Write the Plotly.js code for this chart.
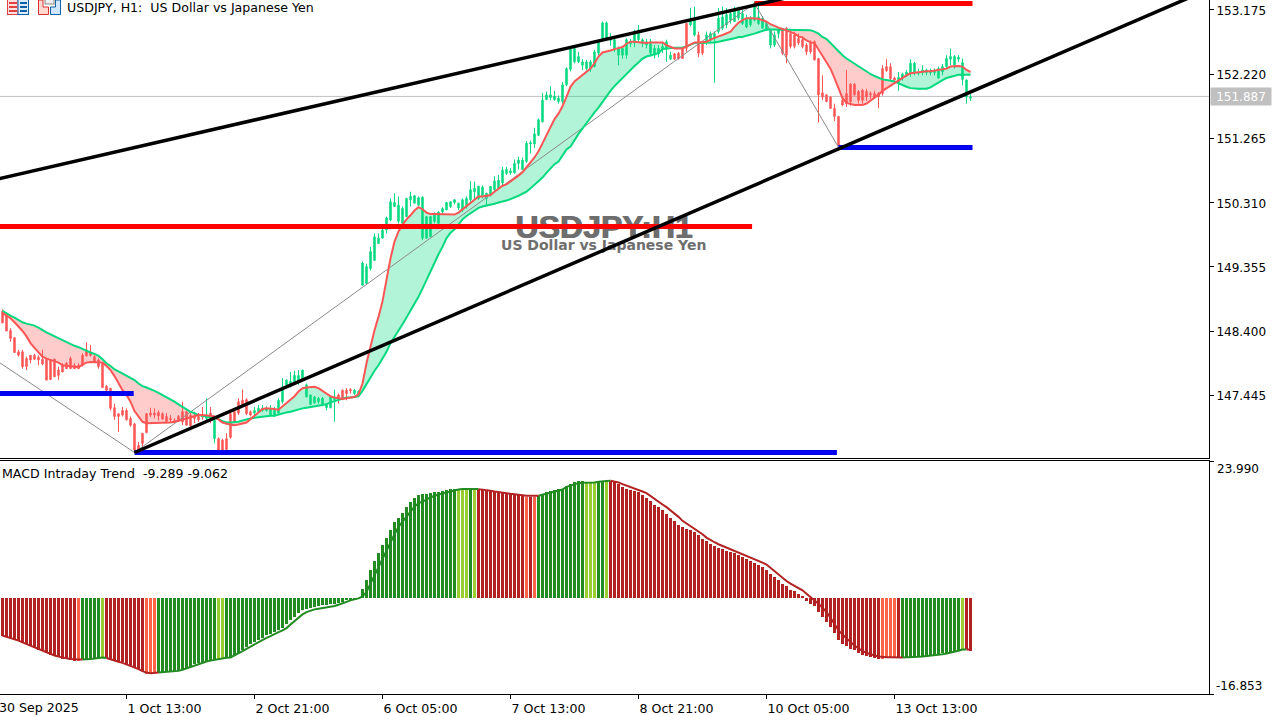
<!DOCTYPE html>
<html><head><meta charset="utf-8">
<script src="https://cdn.plot.ly/plotly-3.0.1.min.js"></script>
<style>html,body{margin:0;padding:0;background:#fff;overflow:hidden}#chart{width:1285px;height:715px}</style>
</head><body><div id="chart"></div>
<script>
const symbolTitle = 'USDJPY, H1:  US Dollar vs Japanese Yen';
const watermarkMain = 'USDJPY:H1';
const watermarkSub = 'US Dollar vs Japanese Yen';
const macdTitle = 'MACD Intraday Trend  -9.289 -9.062';
const currentPrice = 151.887;
const priceTicks = [153.175,152.220,151.265,150.310,149.355,148.400,147.445];
const macdTicks = [23.990,-16.853];
const timeTickBars = [31,63,95,127,159,191,223];
const timeTickLabels = ['1 Oct 13:00','2 Oct 21:00','6 Oct 05:00','7 Oct 13:00','8 Oct 21:00','10 Oct 05:00','13 Oct 13:00'];
const firstTimeLabel = '30 Sep 2025';

const high = [
148.72,148.66,148.44,148.31,148.12,148.12,148.02,148.04,148.06,148.04,
148.12,147.99,147.98,147.99,147.87,147.92,147.94,148.02,147.92,147.92,
148.07,148.23,148.19,148.04,147.99,147.92,147.60,147.55,147.32,147.18,
147.27,147.25,147.13,147.03,146.75,146.88,147.18,147.26,147.25,147.22,
147.19,147.18,147.15,147.10,147.15,147.35,147.22,147.18,147.20,147.18,
147.27,147.40,147.27,147.08,146.82,146.80,146.88,147.18,147.25,147.40,
147.53,147.40,147.22,147.27,147.30,147.30,147.28,147.30,147.27,147.40,
147.70,147.68,147.79,147.81,147.82,147.82,147.62,147.45,147.43,147.42,
147.42,147.31,147.43,147.53,147.47,147.53,147.55,147.55,147.54,147.52,
149.43,149.40,149.65,149.85,149.85,149.97,150.10,150.37,150.45,150.40,
150.25,150.38,150.47,150.42,150.40,150.40,150.10,150.11,150.16,150.18,
150.24,150.31,150.33,150.36,150.30,150.37,150.40,150.63,150.62,150.56,
150.56,150.45,150.55,150.70,150.72,150.84,150.84,150.82,150.95,150.99,
150.98,151.22,151.23,151.42,151.56,151.94,151.96,152.04,151.97,151.90,
152.10,152.32,152.63,152.62,152.55,152.44,152.43,152.43,152.58,152.73,
153.00,153.00,152.83,152.75,152.63,152.62,152.75,152.74,152.88,152.95,
152.75,152.74,152.74,152.65,152.65,152.70,152.73,152.55,152.53,152.55,
152.62,152.98,153.20,153.22,152.85,152.70,152.85,152.85,152.85,153.20,
153.22,153.20,153.17,153.22,153.22,153.17,153.10,153.08,153.30,153.25,
153.08,153.00,152.88,152.85,152.90,152.90,152.92,152.88,152.85,152.82,
152.78,152.68,152.72,152.72,152.46,152.20,151.92,151.88,151.78,151.59,
151.85,152.28,152.08,152.08,151.98,152.00,152.00,151.96,151.97,151.95,
152.35,152.44,152.38,152.18,152.25,152.24,152.28,152.44,152.40,152.30,
152.35,152.30,152.30,152.30,152.33,152.37,152.50,152.60,152.50,152.50,
152.45,152.14,151.95];

const low = [
148.52,148.40,148.24,148.08,148.02,147.84,147.82,147.92,147.97,147.89,
147.89,147.67,147.67,147.72,147.67,147.79,147.84,147.84,147.84,147.84,
147.87,148.02,148.02,147.94,147.84,147.56,147.51,147.22,147.08,146.90,
147.13,147.07,146.98,146.61,146.61,146.63,146.88,147.12,147.10,147.07,
147.09,147.03,147.05,147.02,147.05,147.00,147.00,146.98,147.03,147.05,
147.08,147.04,147.03,146.73,146.63,146.63,146.63,146.80,147.05,147.15,
147.30,147.15,147.13,147.15,147.18,147.20,147.20,147.14,147.12,147.16,
147.32,147.58,147.56,147.60,147.60,147.65,147.42,147.30,147.32,147.32,
147.28,147.22,147.25,147.05,147.32,147.38,147.37,147.47,147.45,147.45,
149.08,149.10,149.30,149.45,149.70,149.78,149.85,150.03,150.25,150.00,
150.00,150.10,150.25,150.30,150.27,149.75,149.77,149.80,150.00,150.00,
150.13,150.20,150.23,150.28,150.20,150.17,150.22,150.32,150.35,150.35,
150.37,150.26,150.40,150.47,150.50,150.57,150.72,150.72,150.74,150.80,
150.80,150.90,151.04,151.12,151.30,151.50,151.83,151.83,151.82,151.78,
151.78,152.04,152.26,152.38,152.38,152.28,152.27,152.25,152.32,152.50,
152.72,152.72,152.64,152.55,152.35,152.45,152.45,152.62,152.62,152.70,
152.62,152.60,152.48,152.45,152.47,152.53,152.40,152.43,152.43,152.43,
152.45,152.55,152.93,152.78,152.47,152.50,152.65,152.70,152.09,152.82,
152.87,152.90,152.97,153.00,153.02,152.95,152.90,152.92,153.00,152.95,
152.90,152.87,152.60,152.62,152.75,152.50,152.38,152.60,152.60,152.65,
152.60,152.50,152.52,152.42,151.50,151.83,151.80,151.70,151.52,151.16,
151.74,151.73,151.75,151.90,151.78,151.78,151.82,151.85,151.85,151.71,
151.90,152.25,152.12,152.10,151.97,152.12,152.18,152.18,152.20,152.20,
152.20,152.20,152.20,152.20,152.15,152.20,152.30,152.35,152.30,152.40,
152.05,151.78,151.82];

const bodyTop = [
148.69,148.64,148.41,148.30,148.09,148.09,147.99,148.04,148.04,148.01,
147.98,147.98,147.97,147.98,147.82,147.89,147.92,147.99,147.89,147.89,
148.04,148.12,148.09,148.02,147.97,147.92,147.58,147.55,147.26,147.17,
147.22,147.22,147.10,147.02,146.70,146.88,147.17,147.18,147.18,147.19,
147.17,147.13,147.10,147.07,147.13,147.20,147.20,147.15,147.13,147.13,
147.15,147.13,147.18,147.07,146.80,146.78,146.80,147.17,147.20,147.35,
147.37,147.38,147.20,147.22,147.25,147.25,147.25,147.25,147.22,147.37,
147.57,147.67,147.65,147.74,147.74,147.82,147.60,147.45,147.42,147.40,
147.40,147.30,147.42,147.42,147.45,147.52,147.52,147.53,147.52,147.50,
149.41,149.36,149.58,149.80,149.78,149.90,150.08,150.32,150.31,150.27,
150.22,150.37,150.40,150.41,150.38,150.39,150.10,150.10,150.15,150.17,
150.22,150.31,150.32,150.35,150.30,150.35,150.37,150.50,150.52,150.55,
150.54,150.45,150.55,150.63,150.64,150.79,150.80,150.78,150.89,150.94,
150.94,151.19,151.20,151.33,151.54,151.83,151.91,151.91,151.89,151.86,
152.06,152.30,152.60,152.60,152.48,152.40,152.40,152.40,152.55,152.70,
152.98,152.98,152.75,152.73,152.60,152.60,152.73,152.70,152.85,152.87,
152.73,152.70,152.70,152.60,152.60,152.63,152.70,152.50,152.52,152.53,
152.60,152.97,153.02,153.02,152.80,152.68,152.80,152.82,152.82,153.05,
153.07,153.10,153.12,153.17,153.20,153.12,153.05,153.05,153.27,153.07,
153.05,152.97,152.87,152.80,152.87,152.87,152.90,152.82,152.80,152.75,
152.73,152.65,152.68,152.70,152.45,151.94,151.91,151.88,151.71,151.59,
151.83,151.93,152.07,152.07,151.96,151.98,151.96,151.93,151.93,151.93,
152.30,152.33,152.33,152.16,152.17,152.22,152.25,152.38,152.38,152.25,
152.28,152.28,152.27,152.28,152.30,152.33,152.45,152.48,152.48,152.47,
152.39,152.13,151.88];

const bodyBottom = [
148.52,148.40,148.29,148.08,148.04,147.87,147.87,147.97,147.98,147.97,
147.91,147.67,147.68,147.72,147.74,147.79,147.84,147.84,147.84,147.84,
147.89,148.03,148.04,147.94,147.87,147.56,147.52,147.25,147.13,147.13,
147.15,147.08,147.00,146.63,146.63,146.73,146.89,147.15,147.15,147.14,
147.09,147.05,147.08,147.04,147.08,147.05,147.00,146.99,147.10,147.08,
147.12,147.10,147.12,146.80,146.63,146.63,146.64,146.82,147.05,147.18,
147.31,147.17,147.15,147.18,147.20,147.22,147.22,147.15,147.15,147.18,
147.35,147.60,147.58,147.62,147.65,147.67,147.42,147.31,147.33,147.35,
147.30,147.26,147.26,147.38,147.40,147.38,147.47,147.51,147.47,147.47,
149.08,149.11,149.33,149.45,149.70,149.78,149.90,150.05,150.25,150.03,
150.00,150.10,150.35,150.30,150.27,149.78,149.78,149.80,150.03,150.00,
150.17,150.20,150.25,150.31,150.23,150.20,150.25,150.35,150.47,150.37,
150.41,150.37,150.42,150.50,150.52,150.60,150.74,150.75,150.75,150.89,
150.80,150.92,151.18,151.18,151.31,151.51,151.84,151.87,151.84,151.81,
151.81,152.06,152.29,152.40,152.40,152.35,152.30,152.30,152.33,152.53,
152.75,152.75,152.72,152.58,152.50,152.50,152.50,152.67,152.68,152.73,
152.67,152.65,152.53,152.50,152.52,152.58,152.60,152.44,152.44,152.45,
152.45,152.60,152.95,152.80,152.53,152.53,152.70,152.72,152.75,152.85,
152.90,152.95,153.02,153.00,153.05,152.97,152.92,152.95,153.02,152.97,
152.90,152.87,152.65,152.65,152.82,152.53,152.50,152.63,152.63,152.68,
152.63,152.55,152.55,152.43,151.91,151.88,151.81,151.71,151.59,151.16,
151.76,151.78,151.81,151.91,151.83,151.83,151.88,151.91,151.88,151.88,
151.93,152.27,152.15,152.13,152.08,152.16,152.19,152.23,152.25,152.23,
152.24,152.24,152.24,152.24,152.16,152.25,152.33,152.44,152.35,152.44,
152.14,151.88,151.86];

const greenCandleRanges = [[51,51],[53,53],[63,83],[88,167],[172,173],[176,194],[224,242]];

const fastMA = [
148.67,148.63,148.59,148.53,148.47,148.40,148.32,148.22,148.15,148.08,
148.02,147.99,147.97,147.95,147.93,147.89,147.88,147.87,147.86,147.86,
147.90,147.93,147.94,147.94,147.94,147.93,147.88,147.82,147.73,147.63,
147.52,147.45,147.35,147.21,147.13,147.05,147.03,147.03,147.03,147.03,
147.03,147.03,147.04,147.05,147.06,147.08,147.10,147.12,147.13,147.15,
147.15,147.15,147.14,147.13,147.08,147.04,147.02,147.01,147.00,147.01,
147.02,147.04,147.09,147.14,147.20,147.24,147.25,147.25,147.24,147.23,
147.28,147.32,147.37,147.43,147.50,147.55,147.56,147.57,147.57,147.55,
147.51,147.46,147.43,147.41,147.40,147.39,147.40,147.41,147.42,147.46,
147.62,147.92,148.17,148.41,148.61,148.84,149.16,149.48,149.73,149.88,
149.98,150.06,150.12,150.19,150.24,150.21,150.16,150.14,150.14,150.14,
150.13,150.13,150.13,150.13,150.16,150.21,150.26,150.31,150.36,150.40,
150.40,150.41,150.42,150.47,150.52,150.56,150.58,150.62,150.66,150.71,
150.76,150.83,150.90,150.98,151.07,151.19,151.31,151.45,151.55,151.63,
151.74,151.88,152.03,152.11,152.16,152.21,152.26,152.30,152.38,152.48,
152.54,152.55,152.57,152.59,152.60,152.62,152.67,152.70,152.70,152.69,
152.68,152.68,152.69,152.69,152.70,152.69,152.65,152.62,152.60,152.60,
152.60,152.63,152.66,152.69,152.69,152.70,152.70,152.73,152.76,152.78,
152.80,152.83,152.85,152.92,152.98,153.02,153.05,153.05,153.05,153.04,
153.02,153.00,152.96,152.93,152.91,152.89,152.87,152.85,152.82,152.78,
152.76,152.72,152.69,152.68,152.58,152.49,152.40,152.30,152.16,152.01,
151.86,151.79,151.77,151.76,151.76,151.76,151.78,151.82,151.86,151.91,
151.97,152.01,152.05,152.08,152.12,152.16,152.20,152.23,152.24,152.25,
152.25,152.26,152.26,152.27,152.27,152.28,152.30,152.33,152.34,152.34,
152.33,152.28,152.25];

const slowMA = [
148.70,148.66,148.63,148.60,148.56,148.53,148.51,148.50,148.48,148.45,
148.41,148.38,148.35,148.32,148.29,148.26,148.23,148.20,148.18,148.16,
148.13,148.11,148.08,148.06,148.03,147.98,147.92,147.88,147.83,147.80,
147.77,147.74,147.71,147.67,147.62,147.58,147.56,147.54,147.51,147.48,
147.45,147.41,147.38,147.35,147.31,147.27,147.23,147.20,147.18,147.15,
147.14,147.13,147.11,147.10,147.09,147.06,147.04,147.04,147.04,147.05,
147.07,147.09,147.10,147.11,147.12,147.13,147.13,147.14,147.14,147.16,
147.17,147.19,147.20,147.22,147.24,147.25,147.26,147.27,147.28,147.29,
147.30,147.31,147.34,147.36,147.37,147.39,147.41,147.41,147.42,147.43,
147.51,147.62,147.71,147.81,147.89,147.99,148.09,148.22,148.31,148.39,
148.50,148.60,148.70,148.80,148.91,149.03,149.16,149.28,149.42,149.54,
149.65,149.78,149.86,149.91,149.98,150.06,150.11,150.15,150.19,150.23,
150.25,150.26,150.27,150.29,150.31,150.32,150.34,150.36,150.38,150.41,
150.44,150.47,150.52,150.57,150.62,150.68,150.75,150.82,150.88,150.92,
151.02,151.10,151.14,151.24,151.33,151.41,151.49,151.58,151.65,151.72,
151.81,151.89,151.97,152.04,152.10,152.17,152.23,152.28,152.34,152.39,
152.45,152.48,152.50,152.52,152.53,152.59,152.60,152.61,152.61,152.61,
152.61,152.63,152.66,152.68,152.68,152.68,152.68,152.69,152.69,152.70,
152.71,152.73,152.74,152.75,152.77,152.77,152.79,152.80,152.82,152.84,
152.86,152.88,152.88,152.88,152.88,152.88,152.88,152.88,152.88,152.88,
152.88,152.88,152.87,152.85,152.82,152.77,152.74,152.68,152.62,152.55,
152.50,152.45,152.41,152.38,152.33,152.29,152.25,152.22,152.19,152.16,
152.14,152.13,152.12,152.11,152.08,152.05,152.03,152.01,152.00,152.00,
152.00,152.00,152.02,152.06,152.10,152.13,152.16,152.18,152.20,152.21,
152.21,152.21,152.21];

const macdHist = [
-6.71,-6.88,-7.06,-7.35,-7.58,-7.88,-8.17,-8.52,-8.81,-9.11,
-9.40,-9.69,-9.93,-10.16,-10.39,-10.63,-10.80,-10.92,-10.98,-10.98,
-10.80,-10.86,-10.75,-10.69,-10.51,-10.39,-10.51,-10.75,-10.98,-11.16,
-11.33,-11.62,-11.86,-12.15,-12.44,-12.80,-13.32,-13.32,-13.21,-13.09,
-13.09,-12.97,-12.85,-12.85,-12.74,-12.56,-12.27,-12.04,-11.68,-11.39,
-11.27,-11.10,-10.98,-10.86,-10.69,-10.57,-10.51,-10.39,-10.10,-9.69,
-9.22,-8.64,-8.17,-7.76,-7.35,-7.00,-6.59,-6.30,-6.00,-5.71,
-5.24,-4.54,-3.84,-3.37,-2.66,-2.20,-1.96,-1.79,-1.61,-1.49,
-1.32,-1.20,-1.14,-1.02,-0.85,-0.67,-0.44,-0.32,-0.20,-0.09,
1.61,3.19,4.83,6.41,7.88,9.22,10.51,11.98,13.32,14.08,
14.90,15.96,16.84,17.54,18.01,18.12,18.18,18.30,18.48,18.59,
18.77,18.89,19.00,19.06,18.89,18.89,18.89,19.00,19.00,19.00,
19.00,18.89,18.77,18.65,18.53,18.42,18.30,18.24,18.12,17.95,
17.83,17.72,17.72,17.72,17.89,18.12,18.53,18.77,18.89,19.00,
19.12,19.59,19.94,20.23,20.41,20.41,20.29,20.17,20.17,20.29,
20.41,20.47,20.47,20.35,19.88,19.47,19.06,18.89,18.71,18.48,
18.01,17.54,17.01,16.25,15.84,15.37,14.67,14.08,13.50,12.74,
12.44,12.15,11.86,11.57,10.98,10.28,9.93,9.40,9.11,8.81,
8.64,8.23,8.05,7.88,7.47,7.17,6.88,6.47,6.12,5.71,
5.42,4.83,4.13,3.66,3.19,2.37,2.02,1.43,1.14,0.61,
0.38,-0.56,-1.02,-1.43,-2.49,-3.37,-4.25,-5.12,-6.18,-7.47,
-8.05,-8.52,-8.93,-9.22,-9.63,-9.93,-10.16,-10.39,-10.57,-10.75,
-10.75,-10.57,-10.51,-10.51,-10.51,-10.57,-10.57,-10.51,-10.39,-10.34,
-10.22,-10.16,-10.04,-9.93,-9.87,-9.69,-9.63,-9.52,-9.34,-9.16,
-8.99,-9.05,-9.289];

const macdSignal = [
-6.60,-6.80,-7.00,-7.30,-7.50,-7.80,-8.10,-8.40,-8.70,-9.00,
-9.30,-9.60,-9.80,-10.10,-10.30,-10.50,-10.60,-10.70,-10.80,-10.80,
-10.80,-10.80,-10.70,-10.65,-10.50,-10.45,-10.55,-10.80,-11.00,-11.20,
-11.40,-11.65,-11.90,-12.20,-12.50,-12.85,-13.10,-13.20,-13.15,-13.10,
-13.05,-13.00,-12.95,-12.90,-12.80,-12.60,-12.35,-12.10,-11.85,-11.55,
-11.30,-11.15,-11.00,-10.85,-10.70,-10.60,-10.50,-10.45,-10.10,-9.81,
-9.34,-8.93,-8.52,-8.17,-7.76,-7.35,-7.00,-6.71,-6.30,-6.00,
-5.71,-5.30,-4.66,-4.07,-3.54,-2.90,-2.49,-2.20,-2.02,-1.90,
-1.79,-1.67,-1.49,-1.43,-1.20,-0.91,-0.73,-0.44,-0.26,-0.09,
0.26,1.02,2.49,3.95,5.53,6.88,8.34,9.81,11.16,12.44,
13.32,14.30,15.20,16.00,16.60,16.84,17.25,17.60,17.89,18.12,
18.30,18.53,18.77,18.89,19.00,19.06,19.06,19.06,19.06,19.06,
19.00,18.83,18.77,18.65,18.53,18.42,18.36,18.24,18.18,18.07,
17.95,17.89,17.89,17.89,17.89,18.07,18.30,18.48,18.65,18.83,
19.00,19.47,19.70,19.94,20.11,20.17,20.17,20.23,20.23,20.35,
20.35,20.47,20.53,20.41,20.23,19.94,19.70,19.47,19.24,18.94,
18.65,18.36,17.83,17.30,16.84,16.37,15.90,15.37,14.79,14.20,
13.50,13.03,12.62,12.15,11.74,11.16,10.57,10.10,9.75,9.40,
9.11,8.81,8.58,8.34,8.05,7.76,7.47,7.17,6.88,6.53,
6.18,5.83,5.24,4.66,4.13,3.54,2.96,2.49,2.14,1.79,
1.32,0.73,0.15,-0.32,-1.02,-1.73,-2.49,-3.48,-4.54,-5.71,
-6.41,-7.17,-7.76,-8.35,-8.87,-9.34,-9.63,-9.93,-10.10,-10.28,
-10.39,-10.39,-10.39,-10.39,-10.45,-10.45,-10.45,-10.45,-10.39,-10.34,
-10.28,-10.22,-10.10,-10.04,-9.99,-9.87,-9.75,-9.63,-9.46,-9.28,
-9.05,-9.05,-9.062];

const histStateRuns = [['D',19],['L',1],['G',5],['Y',1],['D',10],['L',3],['G',15],['Y',2],['G',58],['Y',3],['G',1],['Y',1],['D',12],['L',1],['D',1],['L',1],['G',12],['Y',3],['G',2],['Y',1],['D',68],['L',4],['D',1],['G',15],['Y',1],['D',2]];

const zigzagBars = [-1,33,188,209];
const zigzagPrices = [147.94,146.594,153.27,151.13];
const upperTrendBars = [-1,196];
const upperTrendPrices = [150.662,153.353];
const lowerTrendBars = [33,300];
const lowerTrendPrices = [146.594,153.44];
const redLevels = [{from:-1,to:187.4,price:149.953},{from:188,to:242.5,price:153.268}];
const blueLevels = [{from:-1,to:32.8,price:147.47},{from:33,to:208.6,price:146.594},{from:209,to:242.5,price:151.128}];

const COL = {up:'#00D97E',down:'#FF5555',
  upFill:'rgba(0,217,126,0.3)',downFill:'rgba(255,85,85,0.3)',
  D:'#B22222',L:'#FF6347',G:'#228B22',Y:'#9ACD32'};
const W=1285,H=715;
const FONT='"DejaVu Sans", Tahoma, sans-serif';
const px2y = p => 1 - p/H;
const barIdx = macdHist.map((_,i)=>i);

const isGreen = i => greenCandleRanges.some(r=>i>=r[0]&&i<=r[1]);
const open = bodyTop.map((t,i)=> isGreen(i)? bodyBottom[i]: t);
const close = bodyTop.map((t,i)=> isGreen(i)? t: bodyBottom[i]);

const states=[]; histStateRuns.forEach(r=>{for(let k=0;k<r[1];k++)states.push(r[0]);});
const histColors = states.map(s=>COL[s]);

const traces=[];
traces.push({type:'candlestick',x:barIdx,open,high,low,close,xaxis:'x',yaxis:'y',whiskerwidth:0,hoverinfo:'skip',showlegend:false,
  increasing:{line:{color:COL.up,width:1},fillcolor:COL.up},
  decreasing:{line:{color:COL.down,width:1},fillcolor:COL.down}});
// watermark sits beneath every line
traces.push({type:'scatter',mode:'text',x:[150.3],y:[149.90],text:[watermarkMain],textposition:'middle center',cliponaxis:false,
  textfont:{family:'"Liberation Sans", Arial, sans-serif',size:32,color:'#6e6e6e',weight:700,shadow:'1px 0 0 #6e6e6e'},hoverinfo:'skip',showlegend:false,xaxis:'x',yaxis:'y'});
traces.push({type:'scatter',mode:'text',x:[150.3],y:[149.655],text:[watermarkSub],textposition:'middle center',
  textfont:{family:'"DejaVu Sans", sans-serif',size:14,color:'#6e6e6e',weight:700},hoverinfo:'skip',showlegend:false,xaxis:'x',yaxis:'y'});
// band between the two averages, split where they cross
(function(){
  let sx=[],sf=[],ss=[],sign=null;
  const flush=()=>{ if(sx.length>1){ traces.push({type:'scatter',mode:'lines',x:sx.concat(sx.slice().reverse()),y:sf.concat(ss.slice().reverse()),
      fill:'toself',fillcolor:sign>0?COL.upFill:COL.downFill,line:{width:0},hoverinfo:'skip',showlegend:false,xaxis:'x',yaxis:'y'}); } };
  for(let i=0;i<fastMA.length;i++){
    const d=fastMA[i]-slowMA[i]; const s=d>=0?1:-1;
    if(sign!==null&&s!==sign){
      const pd=fastMA[i-1]-slowMA[i-1]; const t=pd/(pd-d);
      const cx=i-1+t, cy=fastMA[i-1]+t*(fastMA[i]-fastMA[i-1]);
      sx.push(cx);sf.push(cy);ss.push(cy);flush();
      sx=[cx];sf=[cy];ss=[cy];
    }
    sign=s; sx.push(i);sf.push(fastMA[i]);ss.push(slowMA[i]);
  }
  flush();
})();
const line=(x,y,color,width,ax)=>({type:'scatter',mode:'lines',x,y,line:{color,width},hoverinfo:'skip',showlegend:false,xaxis:ax?'x2':'x',yaxis:ax?'y2':'y',connectgaps:false});
traces.push(line(zigzagBars,zigzagPrices,'#8a8a8a',1));
traces.push(line(barIdx,slowMA,COL.up,2));
traces.push(line(barIdx,fastMA,COL.down,2));
redLevels.forEach(l=>traces.push(line([l.from,l.to],[l.price,l.price],'#FF0000',5)));
blueLevels.forEach(l=>traces.push(line([l.from,l.to],[l.price,l.price],'#0000F0',5)));
traces.push(line(upperTrendBars,upperTrendPrices,'#000000',3.5));
traces.push(line(lowerTrendBars,lowerTrendPrices,'#000000',3.5));

traces.push({type:'bar',x:barIdx,y:macdHist,width:0.75,marker:{color:histColors,line:{width:0}},hoverinfo:'skip',showlegend:false,xaxis:'x2',yaxis:'y2'});
const sigGreen=macdSignal.map((v,i)=> (states[i]==='G'||states[i]==='Y'||(i>0&&(states[i-1]==='G'||states[i-1]==='Y')))?v:null);
const sigRed=macdSignal.map((v,i)=> (states[i]==='D'||states[i]==='L'||(i>0&&(states[i-1]==='D'||states[i-1]==='L')))?v:null);
traces.push(line(barIdx,sigGreen,COL.G,2,true));
traces.push(line(barIdx,sigRed,COL.D,2,true));

const xr=[(0-2.5)/4,(1209-2.5)/4];
const svg1='<svg xmlns="http://www.w3.org/2000/svg" width="22" height="15"><rect x=".5" y="-1" width="10.5" height="15.5" fill="#ffe0e0" stroke="#e04040"/><rect x="11" y="-1" width="10.5" height="15.5" fill="#dcecff" stroke="#1060a8"/><path d="M2 3h8M2 7h8M2 11h8" stroke="#e04040" stroke-width="2"/><path d="M13 3h7M13 7h7M13 11h7" stroke="#1060a8" stroke-width="2"/></svg>';
const svg2='<svg xmlns="http://www.w3.org/2000/svg" width="23" height="15"><path d="M.5 0v14.5h10V7H5V0z" fill="#ffd8d0" stroke="#d83030"/><path d="M12.5 14.5h10V0h-5v7h-5z" fill="#cfe6ff" stroke="#1060a8"/><rect x="7" y="-1" width="9" height="5" fill="#eee" stroke="#888"/></svg>';
const uri=s=>'data:image/svg+xml;charset=utf-8,'+encodeURIComponent(s);

const baseTxt={family:FONT,size:12,color:'#000'};
const wideTxt={family:FONT,size:12.6,color:'#000'};
const ann=(text,xp,yp,extra)=>Object.assign({text,xref:'paper',yref:'paper',x:xp/W,y:px2y(yp),xanchor:'left',yanchor:'middle',showarrow:false,font:baseTxt,borderpad:0},extra||{});

const layout={
  width:W,height:H,margin:{l:0,r:0,t:0,b:0,pad:0},paper_bgcolor:'#fff',plot_bgcolor:'#fff',showlegend:false,boxgap:0.5,bargap:0,
  hovermode:false,dragmode:false,
  xaxis:{domain:[0,1209/W],range:xr,anchor:'y',showgrid:false,zeroline:false,showticklabels:false,ticks:'',showline:true,linecolor:'#000',linewidth:1,rangeslider:{visible:false},fixedrange:true},
  xaxis2:{domain:[0,1209/W],range:xr,anchor:'y2',showgrid:false,zeroline:false,tickmode:'array',tickvals:timeTickBars,ticktext:timeTickLabels,ticks:'outside',ticklen:4,tickwidth:1,tickcolor:'#000',
    showline:true,mirror:true,linecolor:'#000',linewidth:1,tickfont:wideTxt,ticklabelposition:'outside right',ticklabelstandoff:3,fixedrange:true},
  yaxis:{domain:[px2y(458),1],range:[153.32-458*0.014864,153.32],anchor:'x',side:'right',showgrid:false,zeroline:false,tickmode:'array',tickvals:priceTicks,ticktext:priceTicks.map(v=>v.toFixed(3)),
    ticks:'outside',ticklen:4,tickwidth:1,tickcolor:'#000',showline:true,linecolor:'#000',linewidth:1,tickfont:baseTxt,ticklabelshift:1,fixedrange:true},
  yaxis2:{domain:[px2y(694),px2y(461)],range:[macdTicks[1],macdTicks[0]],anchor:'x2',side:'right',showgrid:false,zeroline:false,tickmode:'array',tickvals:macdTicks,ticktext:['',''],
    ticks:'outside',ticklen:4,tickwidth:1,tickcolor:'#000',showline:true,linecolor:'#000',linewidth:1,fixedrange:true},
  shapes:[{type:'line',layer:'below',xref:'paper',x0:0,x1:1209/W,yref:'y',y0:currentPrice,y1:currentPrice,line:{color:'#C0C0C0',width:1}}],
  images:[
    {source:uri(svg1),xref:'paper',yref:'paper',x:7/W,y:1,sizex:22/W,sizey:15/H,xanchor:'left',yanchor:'top',sizing:'stretch',layer:'above'},
    {source:uri(svg2),xref:'paper',yref:'paper',x:38/W,y:1,sizex:23/W,sizey:15/H,xanchor:'left',yanchor:'top',sizing:'stretch',layer:'above'}
  ],
  annotations:[
    ann(symbolTitle,66,7.5,{font:wideTxt}),
    ann(macdTitle,1,473,{font:wideTxt}),
    ann(macdTicks[0].toFixed(3),1216,469),
    ann(macdTicks[1].toFixed(3),1215,686),
    ann(firstTimeLabel,-2,707,{font:wideTxt}),
    ann(currentPrice.toFixed(3),1210,96.5,{bgcolor:'#C0C0C0',font:{family:FONT,size:12,color:'#fff'},width:60,height:17,align:'center'})
  ]
};
Plotly.newPlot('chart',traces,layout,{staticPlot:true,displayModeBar:false});
</script></body></html>
